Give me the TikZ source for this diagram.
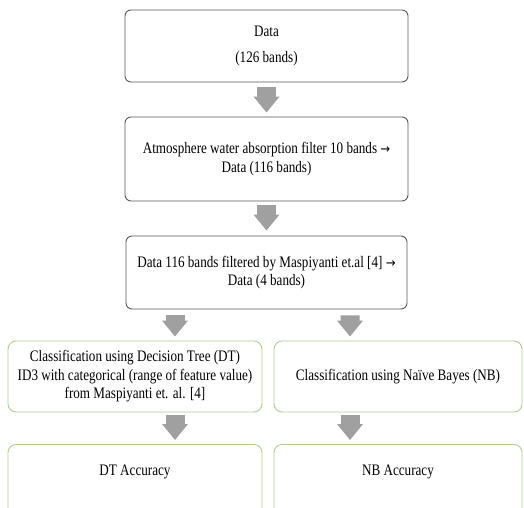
\documentclass[tikz,border=0pt]{standalone}
\usepackage{fontspec}
\setmainfont{Liberation Serif}[FakeStretch=0.82]
\newfontfamily\arrfont{DejaVu Sans}[FakeStretch=0.9]
\usetikzlibrary{arrows.meta,calc}
\definecolor{boxgray}{HTML}{5A5A5A}
\definecolor{boxgreen}{HTML}{B3CC98}
\definecolor{arrgray}{HTML}{A0A0A0}
\newcommand{\rarr}{{\arrfont\fontsize{13bp}{13bp}\selectfont →}}
\begin{document}
\begin{tikzpicture}[x=1bp,y=-1bp,
  topbox/.style={draw=boxgray,line width=0.9bp,rounded corners=6bp,align=center,inner sep=0pt,fill=white},
  lowbox/.style={draw=boxgreen,line width=0.9bp,rounded corners=8bp,align=center,inner sep=0pt,fill=white},
  blk/.style={draw=arrgray,line width=19bp,-{Triangle[length=16bp,width=25bp]},arrgray}
]
\useasboundingbox (0,0) rectangle (524,508);
\clip (0,0) rectangle (524,508);
\fill[white] (0,0) rectangle (524,508);
\fontsize{16bp}{18.5bp}\selectfont
\node[topbox,minimum width=283bp,minimum height=72bp] (b1) at (266.5,46) {Data\\[7bp](126 bands)};
\node[topbox,minimum width=283bp,minimum height=84bp] (b2) at (266.5,159) {Atmosphere water absorption filter 10 bands \rarr\\Data (116 bands)};
\node[topbox,minimum width=281bp,minimum height=73bp] (b3) at (266.5,272.5) {Data 116 bands filtered by Maspiyanti et.al [4] \rarr\\Data (4 bands)};
\node[lowbox,minimum width=254bp,minimum height=71bp] (b4l) at (135,376.5) {Classification using Decision Tree (DT)\\ID3 with categorical (range of feature value)\\from Maspiyanti et. al. [4]};
\node[lowbox,minimum width=248bp,minimum height=71bp] (b4r) at (398,376.5) {Classification using Naïve Bayes (NB)};
\node[lowbox,minimum width=254bp,text height=31bp,text depth=50bp,anchor=north] (b5l) at (135,444) {DT Accuracy};
\node[lowbox,minimum width=248bp,text height=31bp,text depth=50bp,anchor=north] (b5r) at (398,444) {NB Accuracy};
\draw[blk] ($(b1.south)+(0,5)$) -- ($(b2.north)+(0,-4)$);
\draw[blk] ($(b2.south)+(0,4)$) -- ($(b3.north)+(0,-5)$);
\draw[blk] ($(b3.south)+(-91.5,6)$) -- ($(b4l.north)+(40,-4)$);
\draw[blk] ($(b3.south)+(83.5,6)$) -- ($(b4r.north)+(-48,-4)$);
\draw[blk] ($(b4l.south)+(40,3)$) -- ($(b5l.north)+(40,-4)$);
\draw[blk] ($(b4r.south)+(-48,3)$) -- ($(b5r.north)+(-48,-4)$);
\end{tikzpicture}
\end{document}
